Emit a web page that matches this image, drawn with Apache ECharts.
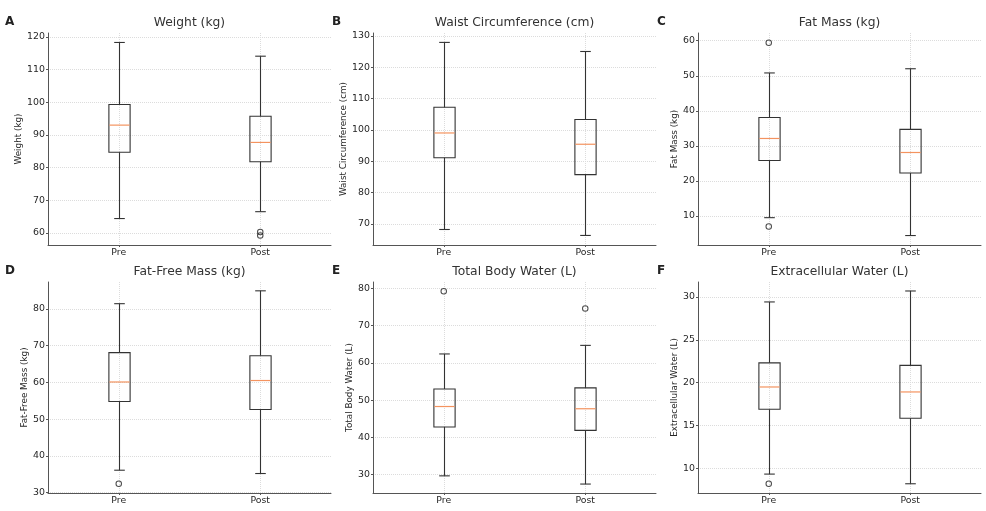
<!DOCTYPE html>
<html>
<head>
<meta charset="utf-8">
<script src="https://cdn.jsdelivr.net/npm/echarts@6/dist/echarts.min.js"></script>
<style>
  html, body { margin: 0; padding: 0; background: #fff; }
  #chart { width: 986px; height: 511px; }
</style>
</head>
<body>
<div id="chart"></div>
<script>
// categories shared by all panels
const categories = ['Pre', 'Post'];

// box stats per category: [lower whisker, Q1, median, Q3, upper whisker]
const weightBox = [[64.4, 84.7, 93.0, 99.3, 118.3], [66.5, 81.8, 87.7, 95.7, 114.1]];
const waistBox = [[68.2, 91.1, 99.0, 107.2, 127.9], [66.3, 85.7, 95.4, 103.3, 125.0]];
const fatBox = [[9.5, 25.8, 32.1, 38.1, 50.8], [4.4, 22.25, 28.1, 34.7, 52.0]];
const ffmBox = [[36.1, 54.8, 60.1, 68.1, 81.4], [35.2, 52.6, 60.5, 67.25, 84.9]];
const tbwBox = [[29.7, 42.8, 48.3, 53.0, 62.4], [27.5, 41.9, 47.7, 53.3, 64.7]];
const ecwBox = [[9.3, 16.87, 19.48, 22.3, 29.42], [8.17, 15.83, 18.9, 22.0, 30.7]];

// outliers per category
const weightOut = [[], [60.3, 59.2]];
const waistOut = [[], []];
const fatOut = [[59.4, 7.0], []];
const ffmOut = [[32.4], []];
const tbwOut = [[79.2], [74.6]];
const ecwOut = [[8.17], []];

// y tick labels
const weightTicks = [60, 70, 80, 90, 100, 110, 120];
const waistTicks = [70, 80, 90, 100, 110, 120, 130];
const fatTicks = [10, 20, 30, 40, 50, 60];
const ffmTicks = [30, 40, 50, 60, 70, 80];
const tbwTicks = [30, 40, 50, 60, 70, 80];
const ecwTicks = [10, 15, 20, 25, 30];

// y axis limits
const weightRange = [56.3, 121.2];
const waistRange = [63.25, 130.9];
const fatRange = [1.7, 62.2];
const ffmRange = [29.9, 87.3];
const tbwRange = [25.1, 81.7];
const ecwRange = [7.09, 31.75];

const panels = [
  {letter: 'A', title: 'Weight (kg)', box: weightBox, out: weightOut, ticks: weightTicks, range: weightRange, gap: 22},
  {letter: 'B', title: 'Waist Circumference (cm)', box: waistBox, out: waistOut, ticks: waistTicks, range: waistRange, gap: 22},
  {letter: 'C', title: 'Fat Mass (kg)', box: fatBox, out: fatOut, ticks: fatTicks, range: fatRange, gap: 17},
  {letter: 'D', title: 'Fat-Free Mass (kg)', box: ffmBox, out: ffmOut, ticks: ffmTicks, range: ffmRange, gap: 17},
  {letter: 'E', title: 'Total Body Water (L)', box: tbwBox, out: tbwOut, ticks: tbwTicks, range: tbwRange, gap: 17},
  {letter: 'F', title: 'Extracellular Water (L)', box: ecwBox, out: ecwOut, ticks: ecwTicks, range: ecwRange, gap: 17}
];

const FONT = 'DejaVu Sans';
const colLeft = [48, 373, 698];
const rowTop = [33, 282];
const plotW = 283;
const plotH = [212, 211];

const chart = echarts.init(document.getElementById('chart'));

function renderBox(params, api) {
  const x = api.value(0);
  const lo = api.coord([x, api.value(1)]);
  const q1 = api.coord([x, api.value(2)]);
  const med = api.coord([x, api.value(3)]);
  const q3 = api.coord([x, api.value(4)]);
  const hi = api.coord([x, api.value(5)]);
  const w = api.size([0.15, 0])[0];
  const cx = Math.round(lo[0]) + 0.5;
  const st = {stroke: '#333', lineWidth: 1.1, fill: null};
  return {
    type: 'group',
    children: [
      {type: 'line', shape: {x1: cx, y1: hi[1], x2: cx, y2: q3[1]}, style: st},
      {type: 'line', shape: {x1: cx, y1: q1[1], x2: cx, y2: lo[1]}, style: st},
      {type: 'line', shape: {x1: cx - w / 4, y1: hi[1], x2: cx + w / 4, y2: hi[1]}, style: st},
      {type: 'line', shape: {x1: cx - w / 4, y1: lo[1], x2: cx + w / 4, y2: lo[1]}, style: st},
      {type: 'rect', shape: {x: cx - w / 2, y: q3[1], width: w, height: q1[1] - q3[1]}, style: {stroke: '#333', lineWidth: 1.1, fill: 'none'}},
      {type: 'line', shape: {x1: cx - w / 2 + 0.5, y1: med[1], x2: cx + w / 2 - 0.5, y2: med[1]}, style: {stroke: '#f4935f', lineWidth: 1.2}}
    ]
  };
}

const grid = [], xAxis = [], yAxis = [], series = [], title = [], graphic = [];
panels.forEach((p, i) => {
  const col = i % 3, row = Math.floor(i / 3);
  const left = colLeft[col], top = rowTop[row], h = plotH[row];
  grid.push({left: left, top: top, width: plotW, height: h});
  title.push({
    text: p.title, left: left + plotW / 2, top: top - 16, textAlign: 'center', padding: 0,
    textStyle: {fontFamily: FONT, fontSize: 12.3, fontWeight: 'normal', color: '#333'}
  });
  graphic.push({
    type: 'text', left: col === 0 ? 5 : left - 41, top: top - 17,
    style: {text: p.letter, fontFamily: FONT, fontSize: 12, fontWeight: 'bold', fill: '#222'}
  });
  xAxis.push({
    type: 'value', gridIndex: i, min: 0.5, max: 2.5,
    axisLine: {show: true, lineStyle: {color: '#555', width: 1}},
    axisTick: {show: true, length: 2, customValues: [1, 2], lineStyle: {color: '#555'}},
    axisLabel: {
      customValues: [1, 2], margin: 3, fontFamily: FONT, fontSize: 9.3, color: '#262626',
      formatter: v => categories[Math.round(v) - 1]
    },
    splitLine: {show: true, lineStyle: {color: '#dcdcdc', type: 'dotted', width: 1}}
  });
  yAxis.push({
    type: 'value', gridIndex: i, min: p.range[0], max: p.range[1],
    name: p.title, nameLocation: 'middle', nameGap: p.gap,
    nameTextStyle: {fontFamily: FONT, fontSize: 8.8, color: '#262626'},
    axisLine: {show: true, lineStyle: {color: '#555', width: 1}},
    axisTick: {show: true, length: 2, customValues: p.ticks, lineStyle: {color: '#555'}},
    axisLabel: {customValues: p.ticks, margin: 3, fontFamily: FONT, fontSize: 9.4, color: '#262626'},
    splitLine: {show: true, lineStyle: {color: '#dcdcdc', type: 'dotted', width: 1}}
  });
  series.push({
    type: 'custom', xAxisIndex: i, yAxisIndex: i,
    renderItem: renderBox,
    encode: {x: 0, y: [1, 2, 3, 4, 5]},
    data: p.box.map((b, k) => [k + 1].concat(b)),
    z: 3
  });
  const outPts = [];
  p.out.forEach((vals, k) => vals.forEach(v => outPts.push([k + 1, v])));
  series.push({
    type: 'scatter', xAxisIndex: i, yAxisIndex: i,
    symbol: 'circle', symbolSize: 5.5,
    itemStyle: {color: 'rgba(255,255,255,0)', borderColor: '#222', borderWidth: 1.05},
    data: outPts, z: 4
  });
});

chart.setOption({
  animation: false,
  backgroundColor: '#fff',
  title: title,
  graphic: graphic,
  grid: grid,
  xAxis: xAxis,
  yAxis: yAxis,
  series: series
});
</script>
</body>
</html>
